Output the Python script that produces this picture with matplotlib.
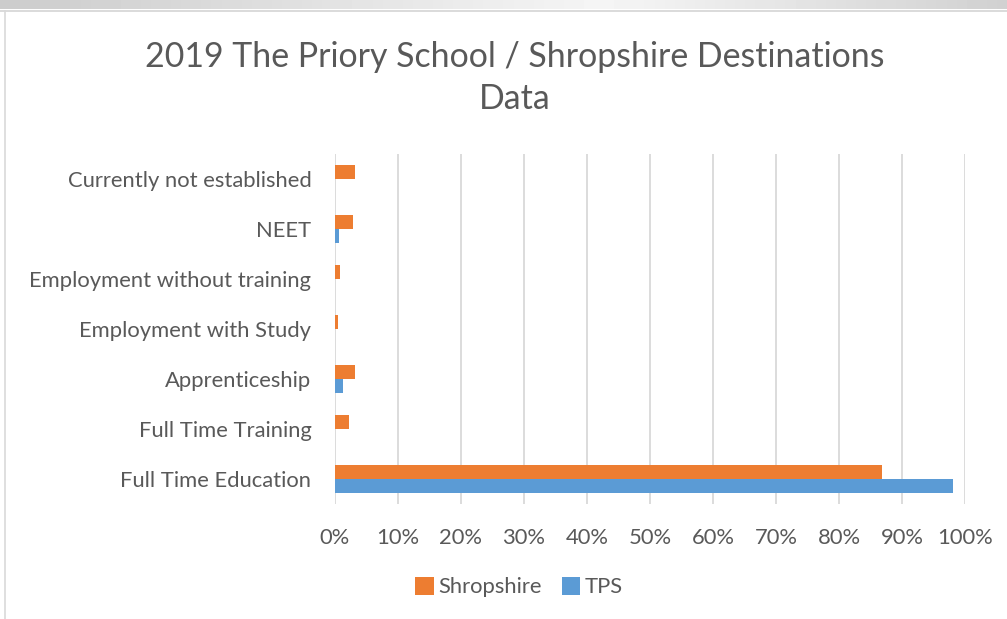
import numpy as np
import matplotlib.pyplot as plt
from matplotlib.ticker import PercentFormatter

categories = ["Full Time Education", "Full Time Training", "Apprenticeship",
              "Employment with Study", "Employment without training", "NEET",
              "Currently not established"]
shropshire = [86.9, 2.2, 3.1, 0.4, 0.8, 2.9, 3.2]
tps = [98.1, 0.0, 1.2, 0.0, 0.0, 0.6, 0.0]

orange = "#ED7D31"
blue = "#5B9BD5"
txt = "#595959"

plt.rcParams["font.family"] = ["Lato", "DejaVu Sans"]

fig = plt.figure(figsize=(10.07, 6.19), dpi=100)

# grey strip and frame lines at the top / left of the screenshot
bg = fig.add_axes([0, 1 - 9 / 619, 1, 9 / 619])
grad = np.concatenate([np.linspace(0.80, 0.96, 60), np.linspace(0.96, 0.82, 40)])
bg.imshow(grad[None, :], cmap="gray", vmin=0, vmax=1, aspect="auto", extent=[0, 1, 0, 1])
bg.axis("off")
fig.add_artist(plt.Line2D([0, 1], [1 - 10.5 / 619] * 2, color="#d4d4d4", lw=1.2))
fig.add_artist(plt.Line2D([4.5 / 1007] * 2, [0, 1 - 10.5 / 619], color="#d9d9d9", lw=1.2))

ax = fig.add_axes([335 / 1007, 1 - 504 / 619, 630 / 1007, 350 / 619])
y = np.arange(len(categories))
h = 0.28
ax.barh(y + h / 2, shropshire, height=h, color=orange, label="Shropshire", zorder=3)
ax.barh(y - h / 2, tps, height=h, color=blue, label="TPS", zorder=3)

ax.set_xlim(0, 100)
ax.set_ylim(-0.5, len(categories) - 0.5)
ax.set_xticks(np.arange(0, 101, 10))
ax.xaxis.set_major_formatter(PercentFormatter(decimals=0))
ax.set_yticks(y)
ax.set_yticklabels(categories)
ax.grid(axis="x", color="#d9d9d9", lw=1.3, zorder=0)
for s in ax.spines.values():
    s.set_visible(False)
ax.tick_params(length=0, labelsize=15.8, labelcolor=txt)
ax.tick_params(axis="x", pad=17)
ax.tick_params(axis="y", pad=17)

fig.text(515 / 1007, 1 - 78 / 619, "2019 The Priory School / Shropshire Destinations\nData",
         ha="center", va="center", fontsize=24.4, color=txt, linespacing=1.42)

ax.legend(loc="center", bbox_to_anchor=(519 / 1007, 1 - 587 / 619), bbox_transform=fig.transFigure,
          ncol=2, frameon=False, fontsize=15.8, labelcolor=txt, handlelength=0.85,
          handleheight=0.9, handletextpad=0.2, columnspacing=0.9)

fig.savefig("out.png", dpi=100, facecolor="white")
